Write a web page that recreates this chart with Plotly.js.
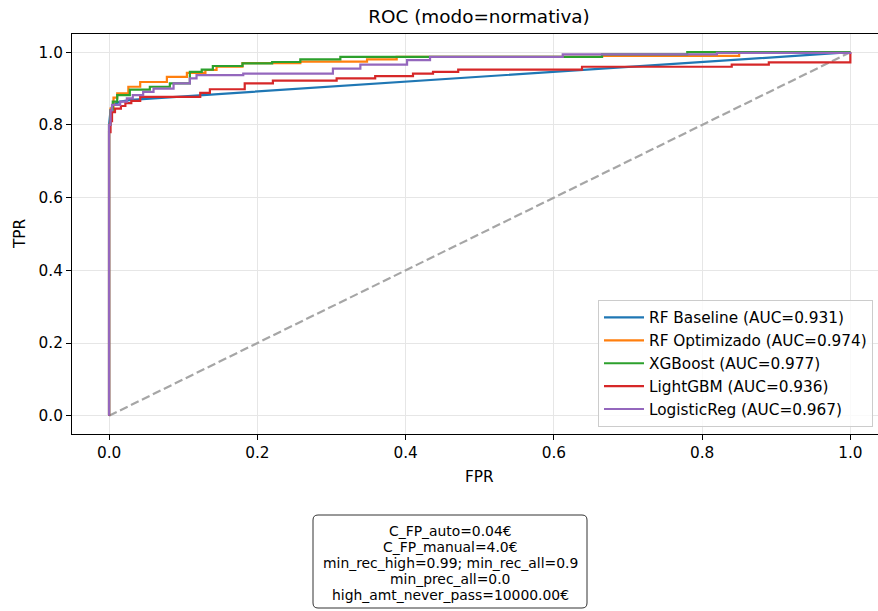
<!DOCTYPE html>
<html>
<head>
<meta charset="utf-8">
<script src="https://cdn.plot.ly/plotly-3.0.1.min.js"></script>
<style>html,body{margin:0;padding:0;background:#fff;}#chart{width:878px;height:611px;}</style>
</head>
<body>
<div id="chart"></div>
<script>
// ---- data ----
const modelNames = ["RF Baseline", "RF Optimizado", "XGBoost", "LightGBM", "LogisticReg"];
const aucValues = [0.931, 0.974, 0.977, 0.936, 0.967];

const fprBaseline = [0, 0, 0.002, 0.005, 0.015, 0.03, 1];
const tprBaseline = [0, 0.80, 0.84, 0.855, 0.864, 0.869, 1];

const fprOptim = [0, 0, 0.002, 0.002, 0.006, 0.006, 0.011, 0.011, 0.026, 0.026, 0.042, 0.042, 0.078, 0.078, 0.105, 0.105, 0.13, 0.13, 0.145, 0.145, 0.18, 0.18, 0.258, 0.258, 0.348, 0.348, 0.388, 0.388, 0.665, 0.665, 0.85, 0.85, 1];
const tprOptim = [0, 0.80, 0.80, 0.845, 0.845, 0.875, 0.875, 0.887, 0.887, 0.905, 0.905, 0.918, 0.918, 0.932, 0.932, 0.943, 0.943, 0.951, 0.951, 0.96, 0.96, 0.97, 0.97, 0.974, 0.974, 0.98, 0.98, 0.987, 0.987, 0.99, 0.99, 1.0, 1.0];

const fprXgb = [0, 0, 0.002, 0.002, 0.005, 0.005, 0.011, 0.011, 0.028, 0.028, 0.055, 0.055, 0.082, 0.082, 0.109, 0.109, 0.125, 0.125, 0.14, 0.14, 0.18, 0.18, 0.22, 0.22, 0.258, 0.258, 0.312, 0.312, 0.665, 0.665, 0.78, 0.78, 1];
const tprXgb = [0, 0.80, 0.80, 0.84, 0.84, 0.864, 0.864, 0.882, 0.882, 0.897, 0.897, 0.905, 0.905, 0.914, 0.914, 0.946, 0.946, 0.952, 0.952, 0.962, 0.962, 0.969, 0.969, 0.973, 0.973, 0.98, 0.98, 0.987, 0.987, 0.994, 0.994, 1.0, 1.0];

const fprLgbm = [0, 0, 0.002, 0.002, 0.004, 0.004, 0.008, 0.008, 0.016, 0.016, 0.022, 0.022, 0.03, 0.03, 0.042, 0.042, 0.123, 0.123, 0.136, 0.136, 0.183, 0.183, 0.221, 0.221, 0.307, 0.307, 0.359, 0.359, 0.41, 0.41, 0.437, 0.437, 0.471, 0.471, 0.638, 0.638, 0.84, 0.84, 0.89, 0.89, 1, 1];
const tprLgbm = [0, 0.78, 0.78, 0.81, 0.81, 0.835, 0.835, 0.845, 0.845, 0.852, 0.852, 0.86, 0.86, 0.866, 0.866, 0.877, 0.877, 0.888, 0.888, 0.898, 0.898, 0.914, 0.914, 0.922, 0.922, 0.928, 0.928, 0.934, 0.934, 0.941, 0.941, 0.946, 0.946, 0.952, 0.952, 0.96, 0.96, 0.966, 0.966, 0.972, 0.972, 1.0];

const fprLogreg = [0, 0, 0.002, 0.002, 0.004, 0.004, 0.015, 0.015, 0.024, 0.024, 0.032, 0.032, 0.046, 0.046, 0.06, 0.06, 0.087, 0.087, 0.109, 0.109, 0.118, 0.118, 0.181, 0.181, 0.302, 0.302, 0.339, 0.339, 0.402, 0.402, 0.433, 0.433, 0.612, 0.612, 0.82, 0.82, 1, 1];
const tprLogreg = [0, 0.80, 0.80, 0.84, 0.84, 0.855, 0.855, 0.864, 0.864, 0.873, 0.873, 0.882, 0.882, 0.891, 0.891, 0.90, 0.90, 0.914, 0.914, 0.928, 0.928, 0.937, 0.937, 0.941, 0.941, 0.955, 0.955, 0.966, 0.966, 0.978, 0.978, 0.987, 0.987, 0.994, 0.994, 0.998, 0.998, 1.0];

const chanceX = [0, 1];
const chanceY = [0, 1];

const tickVals = [0, 0.2, 0.4, 0.6, 0.8, 1.0];
const tickText = ["0.0", "0.2", "0.4", "0.6", "0.8", "1.0"];

const chartTitle = "ROC (modo=normativa)";
const xLabel = "FPR";
const yLabel = "TPR";
const infoLines = ["C_FP_auto=0.04€", "C_FP_manual=4.0€", "min_rec_high=0.99; min_rec_all=0.9", "min_prec_all=0.0", "high_amt_never_pass=10000.00€"];

// ---- styling / layout geometry (pixels) ----
const colors = ["#1f77b4", "#ff7f0e", "#2ca02c", "#d62728", "#9467bd"];
const FONT = "DejaVu Sans, sans-serif";
const W = 878, H = 611;
const M = {l: 72, r: 0, t: 34, b: 177};
const PW = W - M.l - M.r, PH = H - M.t - M.b;
const px2x = p => (p - M.l) / PW;
const px2y = p => (H - M.b - p) / PH;

const series = [
  [fprBaseline, tprBaseline],
  [fprOptim, tprOptim],
  [fprXgb, tprXgb],
  [fprLgbm, tprLgbm],
  [fprLogreg, tprLogreg]
];

const traces = [{
  x: chanceX, y: chanceY, mode: "lines", showlegend: false, hoverinfo: "skip",
  line: {color: "#a6a6a6", width: 2.2, dash: "8.5px,3.7px"}
}];
series.forEach((s, i) => {
  traces.push({
    x: s[0], y: s[1], mode: "lines",
    name: modelNames[i] + " (AUC=" + aucValues[i].toFixed(3) + ")",
    legendgroup: "g" + i,
    line: {color: colors[i], width: 2.2}
  });
});

const axisCommon = {
  showgrid: true, gridcolor: "#e6e6e6", gridwidth: 1,
  zeroline: false, showline: true, linecolor: "#000", linewidth: 1,
  ticks: "outside", ticklen: 5, tickwidth: 1, tickcolor: "#000",
  tickvals: tickVals, ticktext: tickText,
  tickfont: {family: FONT, size: 15.3, color: "#000"}
};

// info box (rounded rectangle) geometry in px
const box = {x0: 313, x1: 587, y0: 515, y1: 608, r: 5};
const bx0 = px2x(box.x0), bx1 = px2x(box.x1), by0 = px2y(box.y0), by1 = px2y(box.y1);
const rx = box.r / PW, ry = box.r / PH;
const boxPath = `M ${bx0 + rx},${by0} L ${bx1 - rx},${by0} Q ${bx1},${by0} ${bx1},${by0 - ry} ` +
  `L ${bx1},${by1 + ry} Q ${bx1},${by1} ${bx1 - rx},${by1} L ${bx0 + rx},${by1} ` +
  `Q ${bx0},${by1} ${bx0},${by1 + ry} L ${bx0},${by0 - ry} Q ${bx0},${by0} ${bx0 + rx},${by0} Z`;

const lineGap = 15.9;
const boxMid = (box.y0 + box.y1) / 2 + 1.5;
const infoAnnotations = infoLines.map((t, i) => ({
  text: t, xref: "paper", yref: "paper",
  x: px2x((box.x0 + box.x1) / 2), y: px2y(boxMid + (i - 2) * lineGap),
  xanchor: "center", yanchor: "middle", showarrow: false,
  font: {family: FONT, size: 13.9, color: "#000"}
}));

const layout = {
  width: W, height: H,
  margin: {l: M.l, r: M.r, t: M.t, b: M.b, pad: 0},
  paper_bgcolor: "#fff", plot_bgcolor: "#fff",
  font: {family: FONT, color: "#000"},
  title: {text: chartTitle, font: {family: FONT, size: 18.4, color: "#000"},
          xref: "paper", x: px2x(479), xanchor: "center", yref: "container", y: 1 - 17 / H, yanchor: "middle"},
  xaxis: Object.assign({}, axisCommon, {range: [-0.05, 1.0373], mirror: true}),
  yaxis: Object.assign({}, axisCommon, {range: [-0.05, 1.05]}),
  showlegend: true,
  legend: {
    x: px2x(873), xanchor: "right", y: px2y(427), yanchor: "bottom",
    bgcolor: "rgba(255,255,255,0.8)", bordercolor: "#cccccc", borderwidth: 1,
    font: {family: FONT, size: 15.3, color: "#000"},
    tracegroupgap: 0, itemwidth: 40
  },
  shapes: [{type: "path", xref: "paper", yref: "paper", path: boxPath,
            line: {color: "#333", width: 1}, fillcolor: "#fff", layer: "above"}],
  annotations: [
    {text: xLabel, xref: "paper", yref: "paper", x: px2x(479), y: px2y(477), xanchor: "center", yanchor: "middle",
     showarrow: false, font: {family: FONT, size: 15.3, color: "#000"}},
    {text: yLabel, xref: "paper", yref: "paper", x: px2x(20), y: 0.5, xanchor: "center", yanchor: "middle",
     textangle: -90, showarrow: false, font: {family: FONT, size: 15.3, color: "#000"}}
  ].concat(infoAnnotations)
};

Plotly.newPlot("chart", traces, layout, {displayModeBar: false, staticPlot: true});
</script>
</body>
</html>
